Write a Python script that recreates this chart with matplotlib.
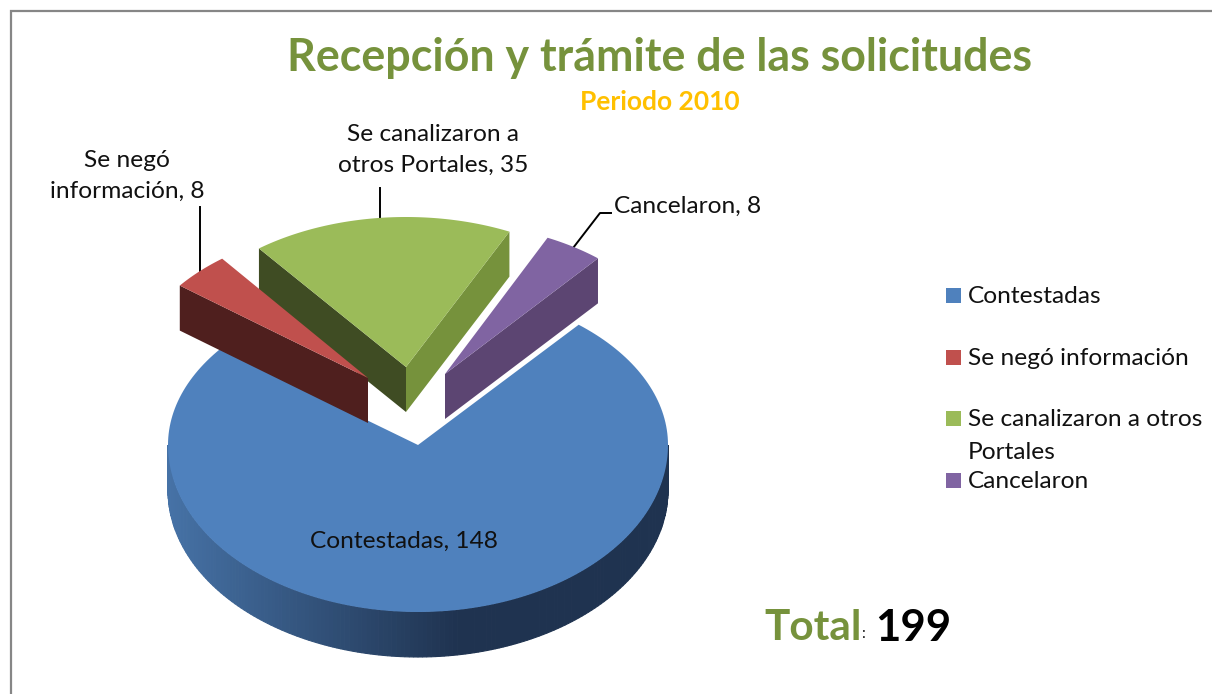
import numpy as np
import matplotlib
matplotlib.use('Agg')
import matplotlib.pyplot as plt
from matplotlib.patches import Polygon, Rectangle

plt.rcParams['font.family'] = ['Lato', 'DejaVu Sans']

categories = ['Contestadas', 'Se negó información', 'Se canalizaron a otros Portales', 'Cancelaron']
values = [148, 8, 35, 8]
total = 199
title = 'Recepción y trámite de las solicitudes'
subtitle = 'Periodo 2010'

# layout, in pixels of the 1212x694 picture
top_colors = ['#4f81bd', '#c0504d', '#9bbb59', '#8064a2']
left_face = [None, '#4f1f1e', '#3f4c23', None]
right_face = [None, None, '#76923c', '#5c4572']
apex = [(418, 445), (368, 378), (406, 367), (445, 374)]
radius_x = [250, 238, 240, 238]
radius_back = [157, 151, 150, 151]
radius_front = [167, 151, 150, 151]
depth = 45
start_angle = 40
font_px = 24.5
paint_order = [0, 3, 2, 1]

fig = plt.figure(figsize=(12.12, 6.94), dpi=100)
ax = fig.add_axes([0, 0, 1, 1])
ax.set_xlim(0, 1212)
ax.set_ylim(694, 0)
ax.axis('off')

ax.plot([10.5, 10.5, 1212], [694, 10.5, 10.5], color='#868686', lw=1.6, solid_joinstyle='miter')


def arc_point(i, a):
	t = np.radians(a)
	c = np.cos(t)
	ry = np.where(c > 0, radius_back[i], radius_front[i])
	return apex[i][0] + radius_x[i] * np.sin(t), apex[i][1] - ry * c


def shift(xy, dy):
	return (xy[0], xy[1] + dy)


angles = start_angle + np.concatenate(([0], np.cumsum(values))) * 360.0 / total

# blue rim first, shaded from left to right
for a0 in np.arange(90, 270, 1.0):
	x0, y0 = arc_point(0, a0)
	x1, y1 = arc_point(0, a0 + 1.0)
	f = np.clip((x0 - 169) / 290.0, 0, 1)
	col = ((1 - f) * np.array([0x46, 0x72, 0xa6]) + f * np.array([0x1f, 0x33, 0x50])) / 255.0
	ax.add_patch(Polygon([(x0, y0), (x1, y1), (x1, y1 + depth), (x0, y0 + depth)],
		closed=True, fc=col, ec=col, lw=0.8, zorder=1))

for n, i in enumerate(paint_order):
	a = np.linspace(angles[i], angles[i + 1], 200)
	xs, ys = arc_point(i, a)
	first = (float(xs[0]), float(ys[0]))
	last = (float(xs[-1]), float(ys[-1]))
	if left_face[i]:
		ax.add_patch(Polygon([first, apex[i], shift(apex[i], depth), shift(first, depth)],
			closed=True, fc=left_face[i], ec='none', zorder=2 + n))
	if right_face[i]:
		ax.add_patch(Polygon([last, apex[i], shift(apex[i], depth), shift(last, depth)],
			closed=True, fc=right_face[i], ec='none', zorder=2 + n))
	ax.add_patch(Polygon(list(zip(xs, ys)) + [apex[i]], closed=True, fc=top_colors[i],
		ec='none', zorder=2 + n))

# leader lines start at the middle of each slice's arc
mids = (angles[:-1] + angles[1:]) / 2
x, y = arc_point(1, mids[1])
ax.plot([x, x], [y, 207], color='k', lw=1.4, zorder=1)
x, y = arc_point(2, mids[2])
ax.plot([x, x], [y, 188], color='k', lw=1.4, zorder=1)
x, y = arc_point(3, mids[3])
ax.plot([x, 600, 611], [y, 213, 213], color='k', lw=1.4, zorder=1)

fs = font_px * 0.72
ax.text(404, 541, '%s, %d' % (categories[0], values[0]), fontsize=fs, ha='center', va='center', color='#111111', zorder=20)
ax.text(127, 176, 'Se negó\ninformación, %d' % values[1], fontsize=fs, ha='center', va='center', linespacing=1.55, color='#111111')
ax.text(433, 150, 'Se canalizaron a\notros Portales, %d' % values[2], fontsize=fs, ha='center', va='center', linespacing=1.55, color='#111111')
ax.text(614, 206, '%s, %d' % (categories[3], values[3]), fontsize=fs, ha='left', va='center', color='#111111')

ax.text(659.5, 58, title, fontsize=32.2, fontweight='bold', color='#76923c', ha='center', va='center')
ax.text(660, 102, subtitle, fontsize=19, fontweight='bold', color='#ffc000', ha='center', va='center')

# legend
legend_y = [296, 358, 419, 481]
legend_text = ['Contestadas', 'Se negó información', 'Se canalizaron a otros', 'Cancelaron']
for i in range(len(categories)):
	ax.add_patch(Rectangle((946, legend_y[i] - 8.5), 15, 15, fc=top_colors[i], ec='none'))
	ax.text(968, legend_y[i], legend_text[i], fontsize=fs, ha='left', va='center', color='#111111')
ax.text(968, 452, 'Portales', fontsize=fs, ha='left', va='center', color='#111111')

ax.text(764, 628, 'Total', fontsize=30.5, fontweight='bold', color='#76923c', ha='left', va='center')
ax.text(861, 634, ':', fontsize=11, color='#111111', ha='left', va='center')
ax.text(875, 628, str(total), fontsize=31.5, fontweight='bold', color='k', ha='left', va='center')

fig.savefig('out.png', dpi=100)
